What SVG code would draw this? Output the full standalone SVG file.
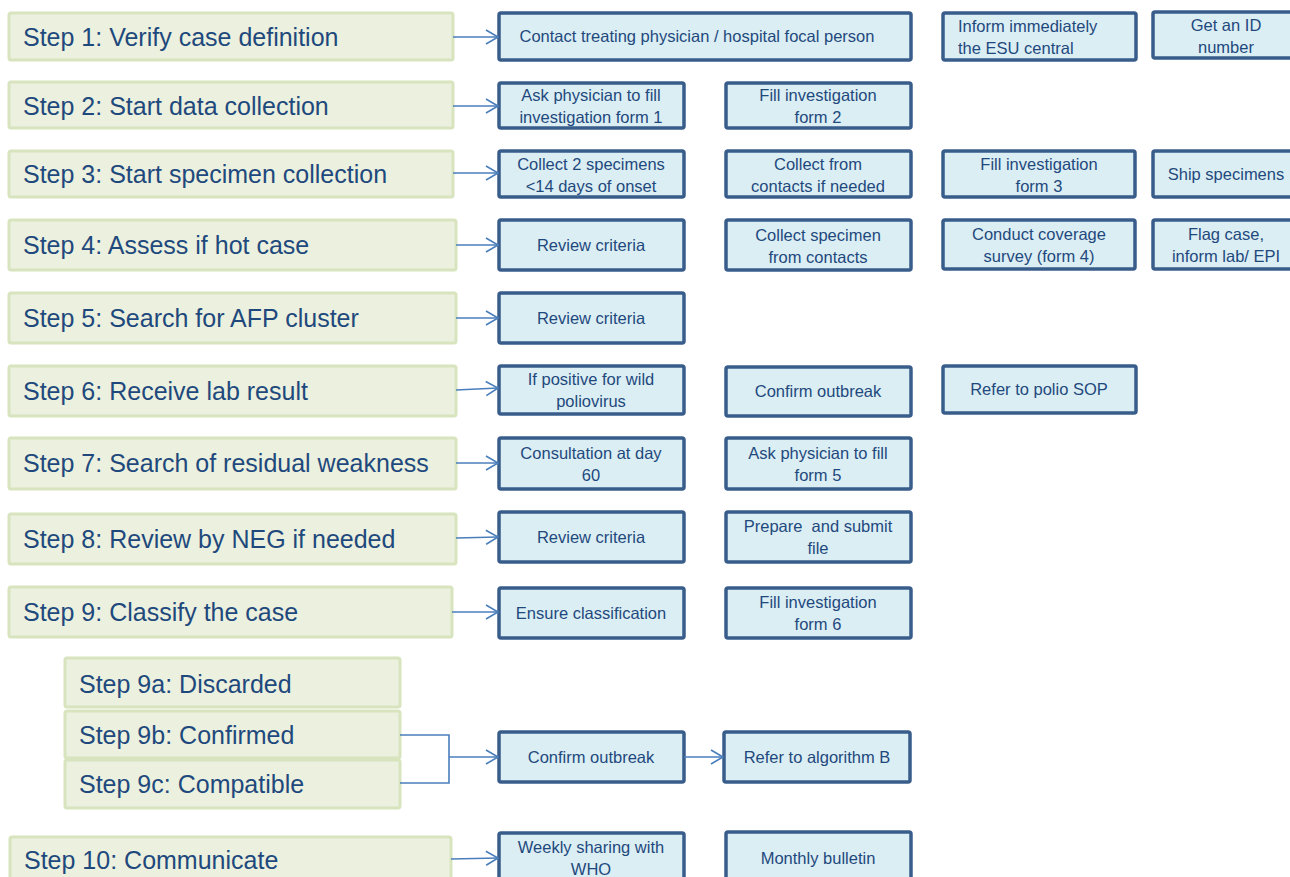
<svg xmlns="http://www.w3.org/2000/svg" width="1290" height="877" viewBox="0 0 1290 877">
  <style>
    .step rect { fill: #EBF1DE; stroke: #D7E4BD; stroke-width: 3; }
    .step text { font-family: "Liberation Sans", Arial, sans-serif; font-size: 25px; fill: #1F497D; }
    .task rect { fill: #DBEEF4; stroke: #385D8A; stroke-width: 3.5; }
    .task text { font-family: "Liberation Sans", Arial, sans-serif; font-size: 16.5px; fill: #1F497D; text-anchor: middle; }
    .task text.left { text-anchor: start; }
    .conn path { fill: none; stroke: #4A7EBB; stroke-width: 1.6; }
  </style>
  <defs>
    <marker id="arrow" markerUnits="userSpaceOnUse" markerWidth="16" markerHeight="18" refX="13" refY="8" orient="auto">
      <path d="M1,1 L13,8 L1,15" fill="none" stroke="#4A7EBB" stroke-width="1.6"/>
    </marker>
  </defs>
  <rect width="1290" height="877" fill="#FFFFFF"/>

  <!-- step boxes -->
  <g id="step1" class="step"><rect x="9" y="13" width="444" height="47" rx="2"/><text x="23" y="46">Step 1: Verify case definition</text></g>
  <g id="step2" class="step"><rect x="9" y="82" width="444" height="46" rx="2"/><text x="23" y="115">Step 2: Start data collection</text></g>
  <g id="step3" class="step"><rect x="9" y="151" width="444" height="46" rx="2"/><text x="23" y="183">Step 3: Start specimen collection</text></g>
  <g id="step4" class="step"><rect x="9" y="220" width="447" height="50" rx="2"/><text x="23" y="254">Step 4: Assess if hot case</text></g>
  <g id="step5" class="step"><rect x="9" y="293" width="447" height="50" rx="2"/><text x="23" y="327">Step 5: Search for AFP cluster</text></g>
  <g id="step6" class="step"><rect x="9" y="366" width="447" height="50" rx="2"/><text x="23" y="400">Step 6: Receive lab result</text></g>
  <g id="step7" class="step"><rect x="9" y="438" width="447" height="51" rx="2"/><text x="23" y="472">Step 7: Search of residual weakness</text></g>
  <g id="step8" class="step"><rect x="9" y="514" width="447" height="50" rx="2"/><text x="23" y="548">Step 8: Review by NEG if needed</text></g>
  <g id="step9" class="step"><rect x="9" y="587" width="443" height="50" rx="2"/><text x="23" y="621">Step 9: Classify the case</text></g>
  <g id="step9a" class="step"><rect x="65" y="658" width="335" height="49" rx="2"/><text x="79" y="693">Step 9a: Discarded</text></g>
  <g id="step9b" class="step"><rect x="65" y="711" width="335" height="47" rx="2"/><text x="79" y="744">Step 9b: Confirmed</text></g>
  <g id="step9c" class="step"><rect x="65" y="760" width="335" height="48" rx="2"/><text x="79" y="793">Step 9c: Compatible</text></g>
  <g id="step10" class="step"><rect x="10" y="837" width="441" height="50" rx="2"/><text x="24" y="869">Step 10: Communicate</text></g>

  <!-- task boxes -->
  <g id="contact" class="task"><rect x="499" y="13" width="412" height="47" rx="2"/><text x="697" y="42">Contact treating physician / hospital focal person</text></g>
  <g id="inform" class="task"><rect x="943" y="13" width="193" height="47" rx="2"/><text class="left" x="958" y="32">Inform immediately</text><text class="left" x="958" y="54">the ESU central</text></g>
  <g id="getid" class="task"><rect x="1153" y="12" width="146" height="46" rx="2"/><text x="1226" y="31">Get an ID</text><text x="1226" y="53">number</text></g>

  <g id="form1" class="task"><rect x="499" y="83" width="185" height="45" rx="2"/><text x="591" y="101">Ask physician to fill</text><text x="591" y="123">investigation form 1</text></g>
  <g id="form2" class="task"><rect x="726" y="83" width="185" height="45" rx="2"/><text x="818" y="101">Fill investigation</text><text x="818" y="123">form 2</text></g>

  <g id="collect2" class="task"><rect x="499" y="151" width="185" height="46" rx="2"/><text x="591" y="170">Collect 2 specimens</text><text x="591" y="192">&lt;14 days of onset</text></g>
  <g id="collectcontacts" class="task"><rect x="726" y="151" width="185" height="46" rx="2"/><text x="818" y="170">Collect from</text><text x="818" y="192">contacts if needed</text></g>
  <g id="form3" class="task"><rect x="943" y="151" width="192" height="46" rx="2"/><text x="1039" y="170">Fill investigation</text><text x="1039" y="192">form 3</text></g>
  <g id="ship" class="task"><rect x="1153" y="151" width="146" height="46" rx="2"/><text x="1226" y="180">Ship specimens</text></g>

  <g id="review4" class="task"><rect x="499" y="220" width="185" height="50" rx="2"/><text x="591" y="251">Review criteria</text></g>
  <g id="specimencontacts" class="task"><rect x="726" y="220" width="185" height="50" rx="2"/><text x="818" y="241">Collect specimen</text><text x="818" y="263">from contacts</text></g>
  <g id="coverage" class="task"><rect x="943" y="220" width="192" height="49" rx="2"/><text x="1039" y="240">Conduct coverage</text><text x="1039" y="262">survey (form 4)</text></g>
  <g id="flag" class="task"><rect x="1153" y="220" width="146" height="49" rx="2"/><text x="1226" y="240">Flag case,</text><text x="1226" y="262">inform lab/ EPI</text></g>

  <g id="review5" class="task"><rect x="499" y="293" width="185" height="50" rx="2"/><text x="591" y="324">Review criteria</text></g>

  <g id="positive" class="task"><rect x="499" y="366" width="185" height="48" rx="2"/><text x="591" y="385">If positive for wild</text><text x="591" y="407">poliovirus</text></g>
  <g id="outbreak6" class="task"><rect x="726" y="367" width="185" height="49" rx="2"/><text x="818" y="397">Confirm outbreak</text></g>
  <g id="poliosop" class="task"><rect x="943" y="366" width="193" height="47" rx="2"/><text x="1039" y="395">Refer to polio SOP</text></g>

  <g id="day60" class="task"><rect x="499" y="438" width="185" height="51" rx="2"/><text x="591" y="459">Consultation at day</text><text x="591" y="481">60</text></g>
  <g id="form5" class="task"><rect x="726" y="438" width="185" height="51" rx="2"/><text x="818" y="459">Ask physician to fill</text><text x="818" y="481">form 5</text></g>

  <g id="review8" class="task"><rect x="499" y="512" width="185" height="50" rx="2"/><text x="591" y="543">Review criteria</text></g>
  <g id="submit" class="task"><rect x="726" y="512" width="185" height="50" rx="2"/><text x="818" y="532" xml:space="preserve">Prepare  and submit</text><text x="818" y="554">file</text></g>

  <g id="classification" class="task"><rect x="499" y="588" width="185" height="50" rx="2"/><text x="591" y="619">Ensure classification</text></g>
  <g id="form6" class="task"><rect x="726" y="588" width="185" height="50" rx="2"/><text x="818" y="608">Fill investigation</text><text x="818" y="630">form 6</text></g>

  <g id="outbreak9" class="task"><rect x="499" y="732" width="185" height="50" rx="2"/><text x="591" y="763">Confirm outbreak</text></g>
  <g id="algorithmb" class="task"><rect x="724" y="732" width="186" height="50" rx="2"/><text x="817" y="763">Refer to algorithm B</text></g>

  <g id="weekly" class="task"><rect x="499" y="833" width="185" height="50" rx="2"/><text x="591" y="853">Weekly sharing with</text><text x="591" y="875">WHO</text></g>
  <g id="monthly" class="task"><rect x="726" y="832" width="185" height="52" rx="2"/><text x="818" y="864">Monthly bulletin</text></g>

  <!-- connectors -->
  <g id="connectors" class="conn">
    <path d="M453,37 L498,37" marker-end="url(#arrow)"/>
    <path d="M453,106 L498,106" marker-end="url(#arrow)"/>
    <path d="M453,173 L498,173" marker-end="url(#arrow)"/>
    <path d="M456,245 L498,245" marker-end="url(#arrow)"/>
    <path d="M456,318 L498,318" marker-end="url(#arrow)"/>
    <path d="M456,390 L498,388" marker-end="url(#arrow)"/>
    <path d="M456,463 L498,463" marker-end="url(#arrow)"/>
    <path d="M456,538 L498,537" marker-end="url(#arrow)"/>
    <path d="M452,612 L498,612" marker-end="url(#arrow)"/>
    <path d="M400,735 L449,735 L449,783 L400,783"/>
    <path d="M449,757 L498,757" marker-end="url(#arrow)"/>
    <path d="M684,757 L723,757" marker-end="url(#arrow)"/>
    <path d="M451,859 L498,858" marker-end="url(#arrow)"/>
  </g>
</svg>
